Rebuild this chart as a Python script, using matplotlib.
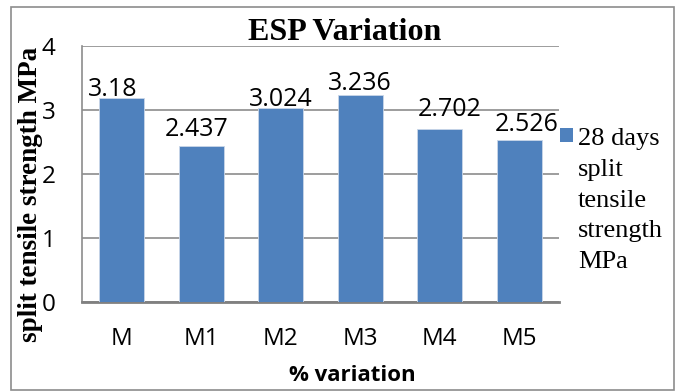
import matplotlib.pyplot as plt
from matplotlib.patches import Rectangle

# split tensile strength at 28 days for each mix
mixes = ["M", "M1", "M2", "M3", "M4", "M5"]
strength = [3.18, 2.437, 3.024, 3.236, 2.702, 2.526]
value_labels = ["3.18", "2.437", "3.024", "3.236", "2.702", "2.526"]
yticks = [0, 1, 2, 3, 4]
series_name = "28 days\nsplit\ntensile\nstrength\nMPa"

# hand-nudged label positions (pixels from the top centre of each bar)
label_dx = [-9, -5, 0, 0, 10, 7.5]
label_dy = [2, 10, 2, 5, 13, 9]

sans = ["Open Sans", "DejaVu Sans"]
serif = ["Liberation Serif", "DejaVu Serif"]
bar_color = "#4F81BD"
grid_color = "#8c8c8c"

fig = plt.figure(figsize=(6.78, 3.92), dpi=100)
fig.patches.append(Rectangle((0.016, 0.006), 0.978, 0.976, transform=fig.transFigure,
                             fill=False, edgecolor="#8c8c8c", linewidth=1.2))

ax = fig.add_axes([0.121, 0.2296, 0.7035, 0.653])
bars = ax.bar(range(len(mixes)), strength, width=0.57, color=bar_color,
              edgecolor="#c9d6e8", linewidth=0.6, zorder=3)

ax.set_xlim(-0.5, len(mixes) - 0.5)
ax.set_ylim(0, 4)
ax.set_yticks(yticks)
ax.set_xticks(range(len(mixes)))
ax.set_xticklabels(mixes, family=sans, fontsize=17.5)
ax.set_yticklabels([str(t) for t in yticks], family=sans, fontsize=17.5)
ax.tick_params(axis="both", length=0)
ax.tick_params(axis="x", pad=18)
ax.tick_params(axis="y", pad=19)

ax.yaxis.grid(True, color=grid_color, linewidth=1.2, zorder=0)
for side in ["top", "right"]:
    ax.spines[side].set_visible(False)
ax.spines["left"].set_color(grid_color)
ax.spines["left"].set_linewidth(1.2)
ax.spines["bottom"].set_color("#808080")
ax.spines["bottom"].set_linewidth(2)

for i, (v, txt) in enumerate(zip(strength, value_labels)):
    ax.annotate(txt, (i, v), xytext=(label_dx[i], label_dy[i]), textcoords="offset pixels",
                ha="center", va="baseline", family=sans, fontsize=18, zorder=4)

fig.text(0.509, 0.917, "ESP Variation", ha="center", va="center",
         family=serif, fontsize=23, fontweight="bold")
fig.text(0.045, 0.503, "split tensile strength MPa", ha="center", va="center",
         rotation=90, family=serif, fontsize=19.5, fontweight="bold")
fig.text(0.52, 0.043, "% variation", ha="center", va="center",
         family=sans, fontsize=16, fontweight="bold")

# legend: colour key next to the series name
fig.patches.append(Rectangle((0.826, 0.638), 0.0192, 0.0357, transform=fig.transFigure,
                             facecolor=bar_color, edgecolor="none"))
fig.text(0.8525, 0.673, series_name, ha="left", va="top", family=serif,
         fontsize=19, linespacing=1.51)

fig.savefig("out.png", dpi=100)
